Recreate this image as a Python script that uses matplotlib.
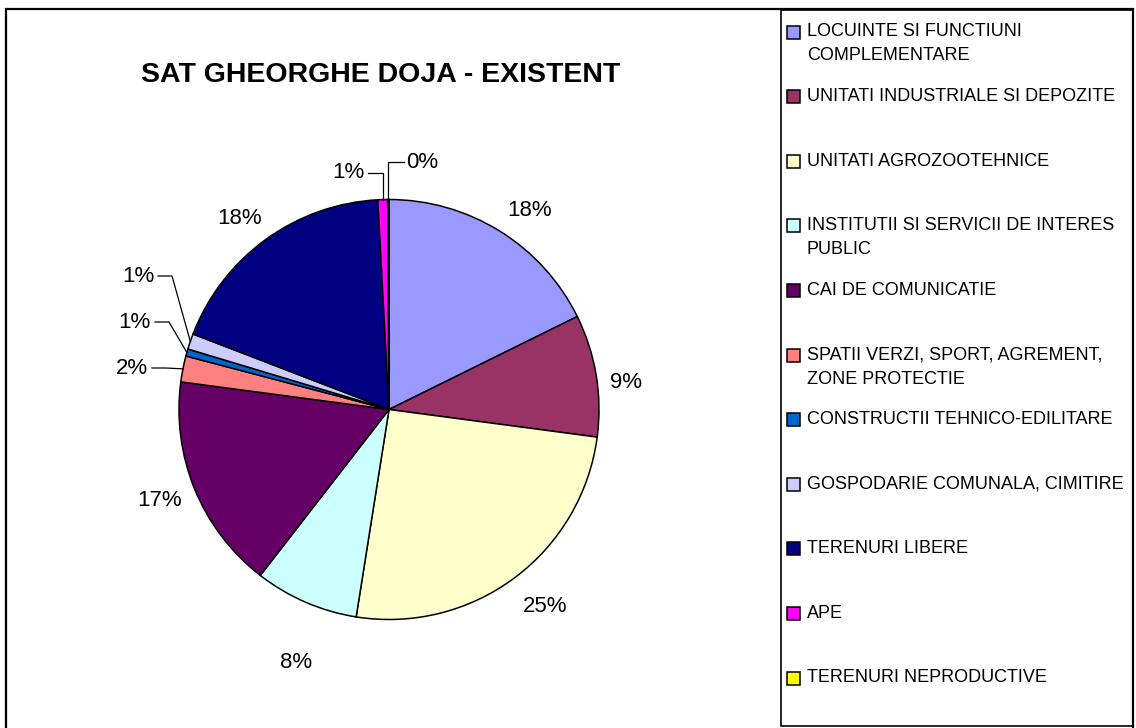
import math

import matplotlib
matplotlib.use("Agg")
import matplotlib.pyplot as plt
from matplotlib.patches import Rectangle

# data (percent of village area)
categories = [
    "LOCUINTE SI FUNCTIUNI COMPLEMENTARE",
    "UNITATI INDUSTRIALE SI DEPOZITE",
    "UNITATI AGROZOOTEHNICE",
    "INSTITUTII SI SERVICII DE INTERES PUBLIC",
    "CAI DE COMUNICATIE",
    "SPATII VERZI, SPORT, AGREMENT, ZONE PROTECTIE",
    "CONSTRUCTII TEHNICO-EDILITARE",
    "GOSPODARIE COMUNALA, CIMITIRE",
    "TERENURI LIBERE",
    "APE",
    "TERENURI NEPRODUCTIVE",
]
legend_lines = [
    ["LOCUINTE SI FUNCTIUNI", "COMPLEMENTARE"],
    ["UNITATI INDUSTRIALE SI DEPOZITE"],
    ["UNITATI AGROZOOTEHNICE"],
    ["INSTITUTII SI SERVICII DE INTERES", "PUBLIC"],
    ["CAI DE COMUNICATIE"],
    ["SPATII VERZI, SPORT, AGREMENT,", "ZONE PROTECTIE"],
    ["CONSTRUCTII TEHNICO-EDILITARE"],
    ["GOSPODARIE COMUNALA, CIMITIRE"],
    ["TERENURI LIBERE"],
    ["APE"],
    ["TERENURI NEPRODUCTIVE"],
]
values = [17.7, 9.4, 25.4, 8.0, 16.6, 2.0, 0.55, 1.2, 18.3, 0.75, 0.1]
colors = ["#9999FF", "#993366", "#FFFFCC", "#CCFFFF", "#660066", "#FF8080",
          "#0066CC", "#CCCCFF", "#000080", "#FF00FF", "#FFFF00"]

W, H = 1136, 728
plt.rcParams["font.family"] = ["Liberation Sans", "DejaVu Sans"]

fig = plt.figure(figsize=(W / 100, H / 100), dpi=100)
ax = fig.add_axes([0, 0, 1, 1])


def Y(y):  # pixel row (top-down) -> axes y (bottom-up)
    return H - y


cx, cy, r = 389, Y(409.5), 210
ax.pie(values, colors=colors, startangle=90, counterclock=False,
       center=(cx, cy), radius=r,
       wedgeprops=dict(edgecolor="black", linewidth=1.1))
ax.set_xlim(0, W)
ax.set_ylim(0, H)
ax.set_aspect("equal")
ax.axis("off")

total = sum(values)
pcts = [int(v / total * 100 + 0.5) for v in values]

# label placement (pixel coords, y down)
label_pos = {0: (530, 210), 1: (626, 382), 2: (545, 606), 3: (296, 662),
             4: (160, 501), 8: (240, 218)}
leader_pos = {5: (148, 368, "right"), 6: (151, 322, "right"),
              7: (154, 276, "right"), 9: (364, 173, "right"),
              10: (406, 162, "left")}

cum = 0.0
for i, v in enumerate(values):
    mid = math.radians(90 - (cum + v / 2) / total * 360)
    cum += v
    txt = f"{pcts[i]}%"
    if i in label_pos:
        lx, ly = label_pos[i]
        ax.text(lx, Y(ly), txt, ha="center", va="center", fontsize=16)
    else:
        lx, ly, ha = leader_pos[i]
        ax.text(lx, Y(ly), txt, ha=ha, va="center", fontsize=16)
        # elbow leader line from the label to the slice edge
        px = cx + r * math.cos(mid)
        py = cy + r * math.sin(mid)
        sx = lx + 4 if ha == "right" else lx - 2
        ex = sx + 14 if abs(px - sx) > 30 else px
        ax.plot([sx, ex, px], [Y(ly), Y(ly), py], color="black", lw=0.9,
                solid_joinstyle="miter")

ax.text(380.5, Y(75), "SAT GHEORGHE DOJA - EXISTENT", ha="center",
        va="center", fontsize=20.5, fontweight="bold")

# outer chart border and legend box
ax.add_patch(Rectangle((6, Y(740)), 1127, 731, fill=False,
                       edgecolor="black", lw=1.6))
ax.add_patch(Rectangle((781, Y(726)), 352, 716, fill=False,
                       edgecolor="black", lw=1.2))

# legend entries
for i, lines in enumerate(legend_lines):
    yc = 32 + i * 64.6
    ax.add_patch(Rectangle((787, Y(yc + 6.5)), 13, 13, facecolor=colors[i],
                           edgecolor="black", lw=1.1))
    for j, line in enumerate(lines):
        ax.text(807, Y(yc + j * 24), line, ha="left", va="center",
                fontsize=13)

fig.savefig("out.png", dpi=100)
